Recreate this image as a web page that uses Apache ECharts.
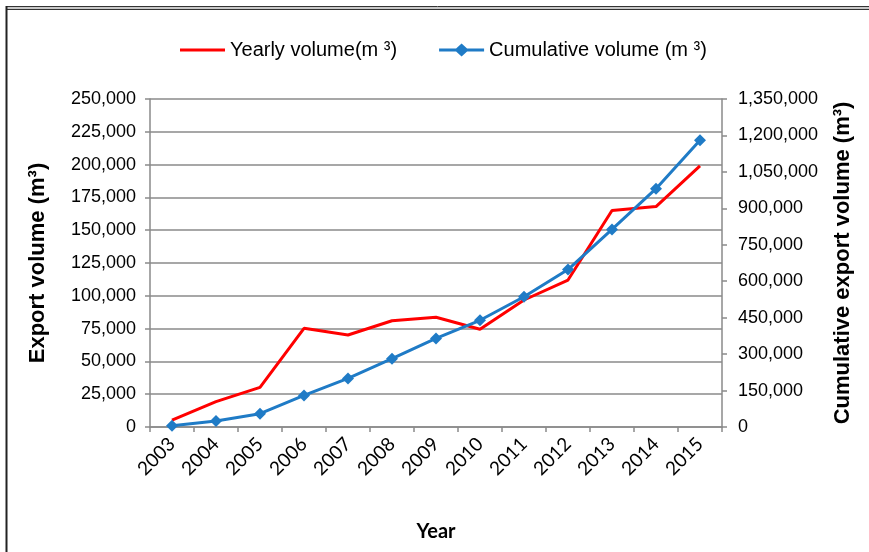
<!DOCTYPE html>
<html>
<head>
<meta charset="utf-8">
<script src="https://cdn.jsdelivr.net/npm/echarts@6/dist/echarts.min.js"></script>
<style>
  html, body { margin: 0; padding: 0; background: #fff; }
  #chart { width: 869px; height: 552px; }
</style>
</head>
<body>
<div id="chart"></div>
<script>
// Timber export volumes per year and running total
const years = ['2003', '2004', '2005', '2006', '2007', '2008', '2009',
               '2010', '2011', '2012', '2013', '2014', '2015'];
const yearlyVolume = [5300, 19300, 30200, 75200, 70100, 81000, 83600,
                      74500, 96800, 112000, 165000, 168000, 199000];
const cumulativeVolume = [5300, 24600, 54800, 130000, 200100, 281100, 364700,
                          439200, 536000, 648000, 813000, 981000, 1180000];
const leftTicks = { min: 0, max: 250000, interval: 25000 };
const rightTicks = { min: 0, max: 1350000, interval: 150000 };

const gridGray = '#8a8a8a';
const fmt = v => Number(v).toLocaleString('en-US');

// legend glyphs: plain stroke, and stroke with a diamond marker in the middle
const plainLineIcon = 'path://M0,0 L45,0 L45,3 L0,3 Z';
const diamondLineIcon = 'path://M0,5.5 L17,5.5 L22.5,0.5 L28,5.5 L45,5.5 L45,8.5 L28,8.5 L22.5,13.5 L17,8.5 L0,8.5 Z';

const chart = echarts.init(document.getElementById('chart'), null, { renderer: 'canvas' });

chart.setOption({
  animation: false,
  backgroundColor: '#fff',
  textStyle: { fontFamily: '"Liberation Sans", Arial, sans-serif' },
  graphic: [
    { type: 'line', shape: { x1: 6, y1: 6.5, x2: 869, y2: 6.5 }, style: { stroke: '#333', lineWidth: 1 } },
    { type: 'line', shape: { x1: 7, y1: 8, x2: 869, y2: 8 }, style: { stroke: '#c8c8c8', lineWidth: 2 } },
    { type: 'line', shape: { x1: 7, y1: 9.5, x2: 869, y2: 9.5 }, style: { stroke: '#333', lineWidth: 1 } },
    { type: 'line', shape: { x1: 6.5, y1: 6, x2: 6.5, y2: 552 }, style: { stroke: '#222', lineWidth: 2 } }
  ],
  legend: {
    left: 175,
    top: 35,
    itemWidth: 45,
    itemHeight: 14,
    itemGap: 42,
    textStyle: { fontSize: 20, color: '#000', fontFamily: '"Liberation Sans", Arial, sans-serif' },
    data: [
      { name: 'Yearly volume(m ³)', icon: plainLineIcon },
      { name: 'Cumulative volume (m ³)', icon: diamondLineIcon }
    ]
  },
  grid: { left: 150, right: 147, top: 99, bottom: 125, containLabel: false },
  xAxis: {
    type: 'category',
    data: years,
    boundaryGap: true,
    name: 'Year',
    nameLocation: 'middle',
    nameGap: 95,
    nameTextStyle: { fontFamily: 'Lato, "Open Sans", sans-serif', fontWeight: 'bold', fontSize: 20, color: '#000' },
    axisLine: { lineStyle: { color: gridGray, width: 1.5 } },
    axisTick: { show: true, interval: 0, length: 5, lineStyle: { color: gridGray, width: 1.5 } },
    axisLabel: {
      interval: 0, rotate: 45, margin: 14,
      fontFamily: 'Lato, "Open Sans", sans-serif', fontSize: 19, color: '#000'
    },
    splitLine: { show: false }
  },
  yAxis: [
    {
      type: 'value',
      position: 'left',
      min: leftTicks.min, max: leftTicks.max, interval: leftTicks.interval,
      name: 'Export volume (m³)',
      nameLocation: 'middle',
      nameGap: 101,
      nameTextStyle: { fontWeight: 'bold', fontSize: 22, color: '#000' },
      axisLine: { show: true, lineStyle: { color: gridGray, width: 1.5 } },
      axisTick: { show: true, length: 5, lineStyle: { color: gridGray, width: 1.5 } },
      axisLabel: { fontSize: 18, color: '#000', margin: 14, formatter: fmt },
      splitLine: { show: true, lineStyle: { color: gridGray, width: 1.5 } }
    },
    {
      type: 'value',
      position: 'right',
      min: rightTicks.min, max: rightTicks.max, interval: rightTicks.interval,
      name: 'Cumulative export volume (m³)',
      nameLocation: 'middle',
      nameGap: 110,
      nameRotate: 90,
      nameTextStyle: { fontWeight: 'bold', fontSize: 22, color: '#000' },
      axisLine: { show: true, lineStyle: { color: gridGray, width: 1.5 } },
      axisTick: { show: true, length: 5, lineStyle: { color: gridGray, width: 1.5 } },
      axisLabel: { fontSize: 18, color: '#000', margin: 16, formatter: fmt },
      splitLine: { show: false }
    }
  ],
  series: [
    {
      name: 'Yearly volume(m ³)',
      type: 'line',
      yAxisIndex: 0,
      data: yearlyVolume,
      symbol: 'none',
      color: '#ff0000',
      lineStyle: { color: '#ff0000', width: 3 },
      z: 3
    },
    {
      name: 'Cumulative volume (m ³)',
      type: 'line',
      yAxisIndex: 1,
      data: cumulativeVolume,
      symbol: 'diamond',
      symbolSize: 12,
      color: '#1f7bc6',
      itemStyle: { color: '#1f7bc6' },
      lineStyle: { color: '#1f7bc6', width: 3 },
      z: 4
    }
  ]
});
</script>
</body>
</html>
